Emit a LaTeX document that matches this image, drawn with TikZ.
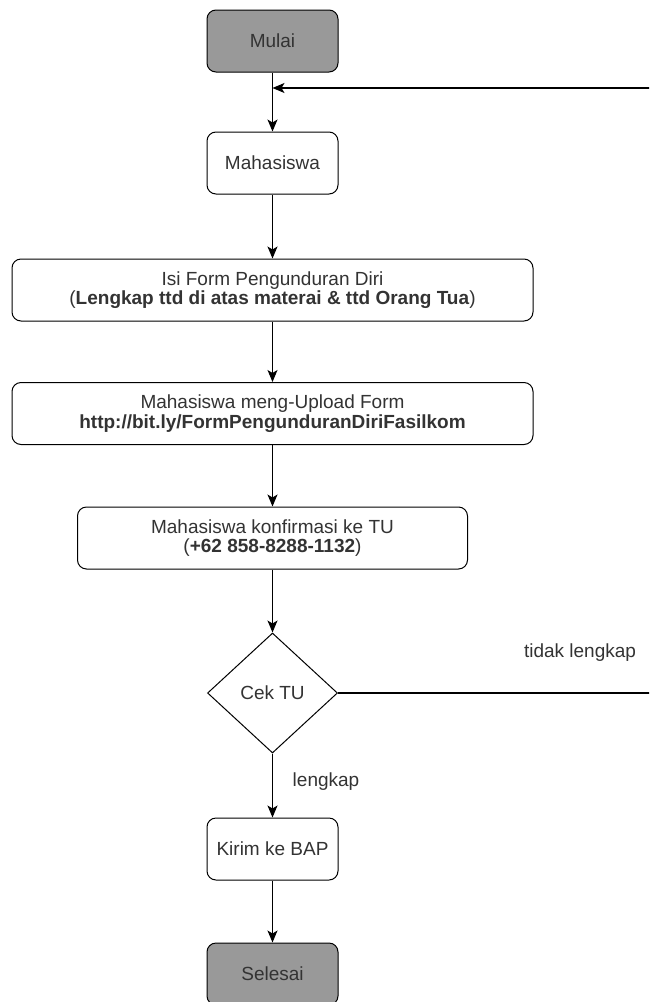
\documentclass[tikz,border=0pt]{standalone}
\usepackage{fontspec}
\setmainfont{Liberation Sans}
\usetikzlibrary{arrows.meta,shapes.geometric}
\definecolor{txt}{HTML}{333333}
\definecolor{startfill}{HTML}{999999}
\tikzset{
  box/.style={draw=black, line width=1pt, rounded corners=9pt, fill=white,
    minimum height=62pt, inner sep=0pt, text=txt, align=center,
    font=\fontsize{19}{19.5}\selectfont},
  term/.style={box, fill=startfill, minimum width=131pt},
  dec/.style={draw=black, line width=1pt, diamond, inner sep=0pt,
    minimum width=130pt, minimum height=120pt, fill=white, text=txt,
    font=\fontsize{19}{19.5}\selectfont},
  lab/.style={text=txt, inner sep=0pt, font=\fontsize{19}{19.5}\selectfont},
  conn/.style={draw=black, line width=1.1pt, -{Stealth[length=12pt,width=10pt,inset=3pt]}}
}
\begin{document}
\begin{tikzpicture}[x=1pt,y=-1pt]
\useasboundingbox (0,0) rectangle (649,1002);
\clip (0,0) rectangle (649,1002);
\node[term] (mulai) at (272.5,41) {Mulai};
\node[box, minimum width=131pt] (mhs) at (272.5,163) {Mahasiswa};
\node[box, minimum width=521pt] (isi) at (272.5,290) {Isi Form Pengunduran Diri\\(\textbf{Lengkap ttd di atas materai \& ttd Orang Tua})};
\node[box, minimum width=521pt] (upl) at (272.5,413.5) {Mahasiswa meng-Upload Form\\\textbf{http://bit.ly/FormPengunduranDiriFasilkom}};
\node[box, minimum width=390pt] (konf) at (272.5,538) {Mahasiswa konfirmasi ke TU\\(\textbf{+62 858-8288-1132})};
\node[dec] (cek) at (272.5,693) {Cek TU};
\node[box, minimum width=131pt] (kirim) at (272.5,849) {Kirim ke BAP};
\node[term] (selesai) at (272.5,974) {Selesai};
\coordinate (join) at (272.5,88);
\coordinate (far1) at (700,693);
\coordinate (far2) at (700,88);
\node[lab] (ltidak) at (580,653) {tidak lengkap};
\node[lab] (lleng) at (326,782) {lengkap};
\draw[conn] (mulai) -- (mhs);
\draw[conn] (mhs) -- (isi);
\draw[conn] (isi) -- (upl);
\draw[conn] (upl) -- (konf);
\draw[conn] (konf) -- (cek);
\draw[conn] (cek) -- (kirim);
\draw[conn] (kirim) -- (selesai);
\draw[conn] (cek.east) -- (far1) -- (far2) -- (join);
\end{tikzpicture}
\end{document}
